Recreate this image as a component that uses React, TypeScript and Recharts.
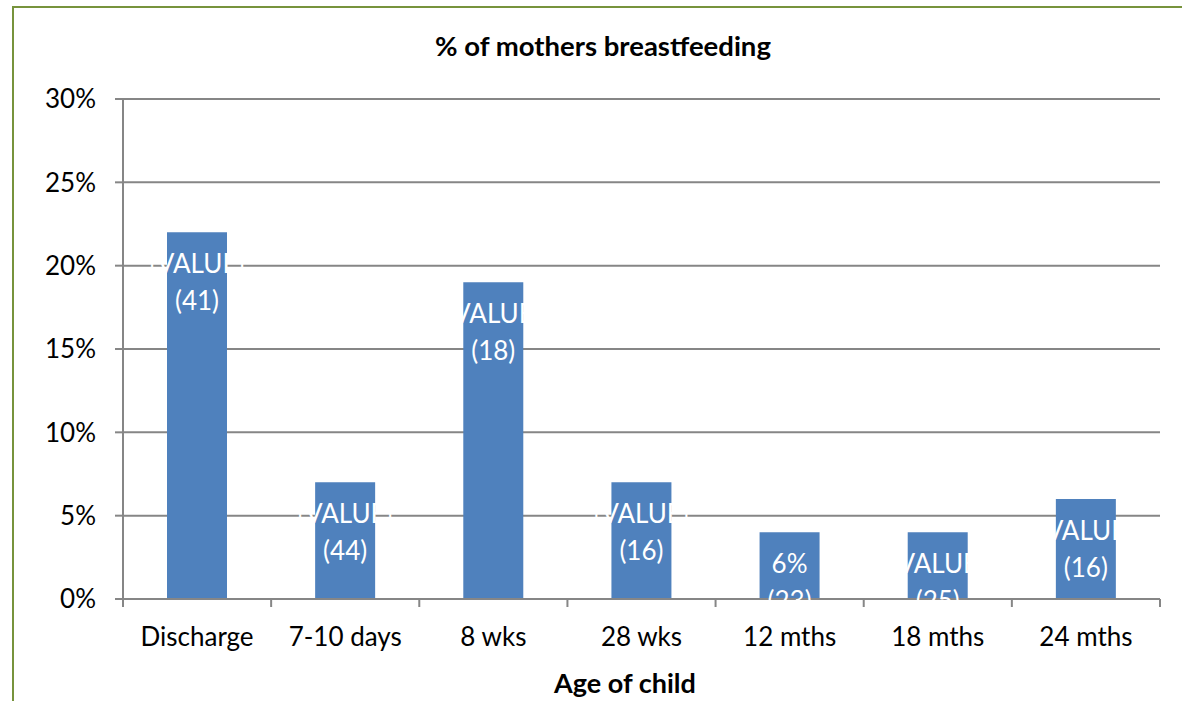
import { BarChart, Bar, XAxis, YAxis, CartesianGrid, LabelList } from "recharts"

const ages = ["Discharge", "7-10 days", "8 wks", "28 wks", "12 mths", "18 mths", "24 mths"]
const pctBreastfeeding = [22, 7, 19, 7, 4, 4, 6]
const labelTop = ["[VALUE]", "[VALUE]", "[VALUE]", "[VALUE]", "6%", "[VALUE]", "[VALUE]"]
const labelCount = ["(41)", "(44)", "(18)", "(16)", "(23)", "(25)", "(16)"]
const yTicks = [0, 5, 10, 15, 20, 25, 30]

const data = ages.map((age, i) => ({ age, pct: pctBreastfeeding[i] }))

const W = 1182
const H = 701
const LEFT = 123
const RIGHT = 22
const GRAY = "#868686"
const FONT = "Lato, 'Open Sans', sans-serif"
const band = (W - LEFT - RIGHT) / ages.length

// eslint-disable-next-line @typescript-eslint/no-explicit-any
function AgeTick({ x, y, payload, index }: any) {
  const axisY = y - 25
  return (
    <g>
      <line x1={x - band / 2} x2={x - band / 2} y1={axisY} y2={axisY + 8} stroke={GRAY} strokeWidth={2} />
      {index === ages.length - 1 && (
        <line x1={x + band / 2} x2={x + band / 2} y1={axisY} y2={axisY + 8} stroke={GRAY} strokeWidth={2} />
      )}
      <text x={x} y={y + 4} dy="0.71em" textAnchor="middle" fontSize={26} fill="#000" fontFamily={FONT}>
        {payload.value}
      </text>
    </g>
  )
}

// eslint-disable-next-line @typescript-eslint/no-explicit-any
function BarLabel({ x, y, width, index }: any) {
  const cx = x + width / 2
  return (
    <g fontFamily={FONT} fontSize={26} fill="#fff" textAnchor="middle">
      <text x={cx} y={y + 31} dominantBaseline="central">{labelTop[index]}</text>
      <text x={cx} y={y + 68} dominantBaseline="central">{labelCount[index]}</text>
    </g>
  )
}

export default function App() {
  return (
    <div style={{ position: "relative", width: W, height: H, background: "#fff", fontFamily: FONT }}>
      <style>{"body{margin:0}"}</style>
      <div
        style={{
          position: "absolute",
          left: 12,
          top: 6,
          right: 0,
          bottom: 0,
          borderLeft: "2px solid #77933C",
          borderTop: "2px solid #77933C",
        }}
      />
      <div
        style={{
          position: "absolute",
          left: 0,
          width: 1206,
          top: 29,
          textAlign: "center",
          fontWeight: "bold",
          fontSize: 27.5,
          lineHeight: "34px",
        }}
      >
        % of mothers breastfeeding
      </div>
      <div
        style={{
          position: "absolute",
          left: 425,
          width: 400,
          top: 666,
          textAlign: "center",
          fontWeight: "bold",
          fontSize: 27,
          lineHeight: "34px",
        }}
      >
        Age of child
      </div>
      <BarChart
        width={W}
        height={H}
        data={data}
        margin={{ top: 99, right: RIGHT, bottom: 0, left: 0 }}
        style={{ position: "absolute", left: 0, top: 0 }}
      >
        <CartesianGrid vertical={false} stroke={GRAY} strokeWidth={2} />
        <XAxis
          dataKey="age"
          height={102}
          axisLine={{ stroke: GRAY, strokeWidth: 2 }}
          tickLine={false}
          tickSize={8}
          tickMargin={17}
          tick={<AgeTick />}
          interval={0}
        />
        <YAxis
          width={LEFT}
          domain={[0, 30]}
          ticks={yTicks}
          interval={0}
          tickFormatter={(v: number) => `${v}%`}
          axisLine={{ stroke: GRAY, strokeWidth: 2 }}
          tickLine={{ stroke: GRAY, strokeWidth: 2 }}
          tickSize={8}
          tickMargin={19}
          tick={{ fontSize: 26, fill: "#000", fontFamily: FONT }}
        />
        <Bar dataKey="pct" fill="#4F81BD" barSize={60} isAnimationActive={false}>
          <LabelList dataKey="pct" content={<BarLabel />} />
        </Bar>
      </BarChart>
    </div>
  )
}
